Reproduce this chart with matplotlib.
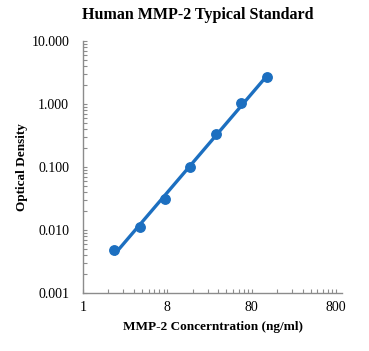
import numpy as np
import matplotlib
matplotlib.use("Agg")
import matplotlib.pyplot as plt
from matplotlib.ticker import FixedLocator, FixedFormatter, NullFormatter

# Data
concentration = [1.875, 3.75, 7.5, 15, 30, 60, 120]
optical_density = [0.0048, 0.011, 0.031, 0.099, 0.33, 1.03, 2.7]
x_tick_values = [0.8, 8, 80, 800]
x_tick_labels = ["1", "8", "80", "800"]
y_tick_values = [0.001, 0.01, 0.1, 1, 10]
y_tick_labels = ["0.001", "0.010", "0.100", "1.000", "10.000"]

plt.rcParams['font.family'] = ['Liberation Serif', 'DejaVu Serif']

W, H = 369, 351
fig = plt.figure(figsize=(W / 100, H / 100), dpi=100)
left, right, top, bottom = 83, 342, 41, 293
ax = fig.add_axes([left / W, 1 - bottom / H, (right - left) / W, (bottom - top) / H])

color = '#1C6FC0'
lx = np.log10(concentration)
ly = np.log10(optical_density)
coef = np.polyfit(lx, ly, 1)
xs = np.linspace(lx.min(), lx.max(), 200)
ax.plot(10 ** xs, 10 ** np.polyval(coef, xs), color=color, lw=2.4, solid_capstyle='butt', zorder=2)
ax.plot(concentration, optical_density, 'o', color=color, ms=6.8, zorder=3)

ax.set_xscale('log')
ax.set_yscale('log')
ax.set_xlim(0.8, 940)
ax.set_ylim(0.001, 10)

ax.xaxis.set_major_locator(FixedLocator(x_tick_values))
ax.xaxis.set_major_formatter(FixedFormatter(x_tick_labels))
ax.xaxis.set_minor_locator(FixedLocator([m * b for b in [0.8, 8, 80] for m in range(2, 10)]))
ax.xaxis.set_minor_formatter(NullFormatter())
ax.yaxis.set_major_locator(FixedLocator(y_tick_values))
ax.yaxis.set_major_formatter(FixedFormatter(y_tick_labels))
ax.yaxis.set_minor_locator(FixedLocator([m * 10.0 ** e for e in range(-3, 1) for m in range(2, 10)]))
ax.yaxis.set_minor_formatter(NullFormatter())

for s in ['top', 'right']:
    ax.spines[s].set_visible(False)
for s in ['left', 'bottom']:
    ax.spines[s].set_color('#8c8c8c')
    ax.spines[s].set_linewidth(1.0)

ax.tick_params(which='both', direction='in', color='#8c8c8c', width=0.8, labelsize=10, colors='black')
ax.tick_params(which='major', length=3)
ax.tick_params(which='minor', length=3)
ax.tick_params(axis='x', pad=6)
ax.tick_params(axis='y', pad=10)

fig.text(198 / W, 1 - 15 / H, 'Human MMP-2 Typical Standard', ha='center', va='center',
         fontsize=11.5, fontweight='bold')
fig.text(213 / W, 1 - 327 / H, 'MMP-2 Concerntration (ng/ml)', ha='center', va='center',
         fontsize=9.5, fontweight='bold')
fig.text(22 / W, 1 - 167 / H, 'Optical Density', ha='center', va='center',
         fontsize=9.5, fontweight='bold', rotation=90)

fig.savefig('out.png', dpi=100)
